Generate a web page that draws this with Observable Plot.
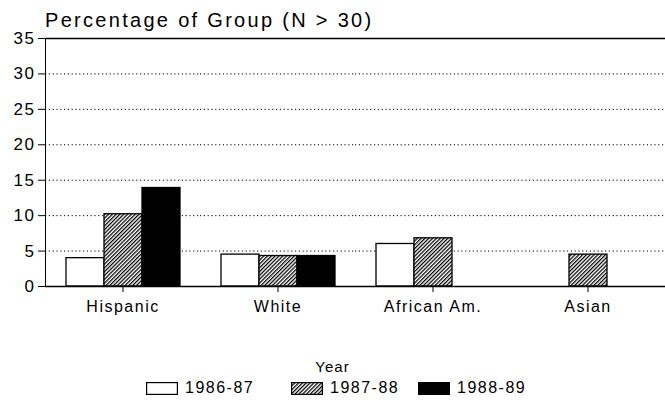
<!DOCTYPE html>
<html>
<head>
<meta charset="utf-8">
<script src="https://cdn.jsdelivr.net/npm/d3@7"></script>
<script src="https://cdn.jsdelivr.net/npm/@observablehq/plot@0.6"></script>
<style>
  html, body { margin: 0; padding: 0; background: white; }
  #wrap { position: relative; width: 665px; height: 407px; font-family: "Liberation Sans", Arial, sans-serif; color: #000; }
  #title { position: absolute; left: 45px; top: 9px; font-size: 20px; letter-spacing: 2.3px; white-space: nowrap; z-index: 2; }
  #chart { position: absolute; left: 0; top: 24px; z-index: 1; }
  #chart svg { background: transparent !important; }
  #legendTitle { position: absolute; left: 0; width: 665px; top: 358px; text-align: center; font-size: 15px; letter-spacing: 1px; }
  .item { position: absolute; top: 381px; height: 14px; display: flex; align-items: center; font-size: 16px; letter-spacing: 1.5px; }
  .item svg { margin-right: 7px; }
</style>
</head>
<body>
<div id="wrap">
  <div id="title">Percentage of Group (N &gt; 30)</div>
  <div id="chart"></div>
  <div id="legendTitle">Year</div>
  <div id="legend"></div>
</div>
<script>
const categories = ["Hispanic", "White", "African Am.", "Asian"];
const years = ["1986-87", "1987-88", "1988-89"];
const v1986_87 = [4.0, 4.5, 6.0, null];
const v1987_88 = [10.2, 4.3, 6.8, 4.5];
const v1988_89 = [13.9, 4.3, null, null];
const yTicks = [0, 5, 10, 15, 20, 25, 30, 35];
const fills = ["white", "url(#hatch)", "black"];

const series = [v1986_87, v1987_88, v1988_89];
const data = categories.flatMap((c, i) =>
  years.map((y, j) => ({category: c, year: y, value: series[j][i]}))
).filter(d => d.value != null);

const gridTicks = yTicks.filter(t => t > 0 && t < 35);
const edgeTicks = [yTicks[0], yTicks[yTicks.length - 1]];

const chart = Plot.plot({
  width: 665,
  height: 302,
  marginLeft: 45,
  marginRight: 0,
  marginTop: 14,
  marginBottom: 40,
  style: {fontFamily: "Liberation Sans, Arial, sans-serif", fontSize: "16px", letterSpacing: "1.5px", color: "black", background: "transparent", overflow: "visible"},
  facet: {data, x: "category"},
  fx: {domain: categories, padding: 0, label: null, tickSize: 6, tickPadding: 8, axis: "bottom"},
  x: {domain: years, axis: null, paddingInner: 0, paddingOuter: 0.5},
  y: {domain: [0, 35], ticks: yTicks, tickSize: 7, tickPadding: 3, label: null, line: true},
  color: {domain: years, range: fills},
  marks: [
    Plot.ruleY(gridTicks, {stroke: "black", strokeDasharray: "1.2,2.6", strokeWidth: 1}),
    Plot.barY(data, {x: "year", y: "value", fill: "year", stroke: "black", strokeWidth: 1.3}),
    Plot.ruleY(edgeTicks, {stroke: "black", strokeWidth: 1.6})
  ]
});

function addPattern(svg, id) {
  const defs = d3.select(svg).insert("defs", ":first-child");
  const p = defs.append("pattern")
    .attr("id", id)
    .attr("patternUnits", "userSpaceOnUse")
    .attr("width", 2.7).attr("height", 2.7)
    .attr("patternTransform", "rotate(45)");
  p.append("rect").attr("width", 2.7).attr("height", 2.7).attr("fill", "white");
  p.append("line").attr("x1", 0.6).attr("y1", 0).attr("x2", 0.6).attr("y2", 2.7)
    .attr("stroke", "black").attr("stroke-width", 1.3);
}
addPattern(chart, "hatch");
d3.select(chart).selectAll("[aria-label^='y-axis'] text").style("font-size", "17px");
document.getElementById("chart").appendChild(chart);

// legend
const legendX = [146, 291, 418];
const legend = document.getElementById("legend");
years.forEach((y, i) => {
  const div = document.createElement("div");
  div.className = "item";
  div.style.left = legendX[i] + "px";
  const svg = d3.create("svg").attr("width", 32).attr("height", 13);
  const pid = "lh" + i;
  addPattern(svg.node(), pid);
  const f = fills[i] === "url(#hatch)" ? `url(#${pid})` : fills[i];
  svg.append("rect").attr("x", 0.6).attr("y", 0.6).attr("width", 30.8).attr("height", 11.8)
    .attr("fill", f).attr("stroke", "black").attr("stroke-width", 1.2);
  div.appendChild(svg.node());
  const span = document.createElement("span");
  span.textContent = y;
  div.appendChild(span);
  legend.appendChild(div);
});
</script>
</body>
</html>
